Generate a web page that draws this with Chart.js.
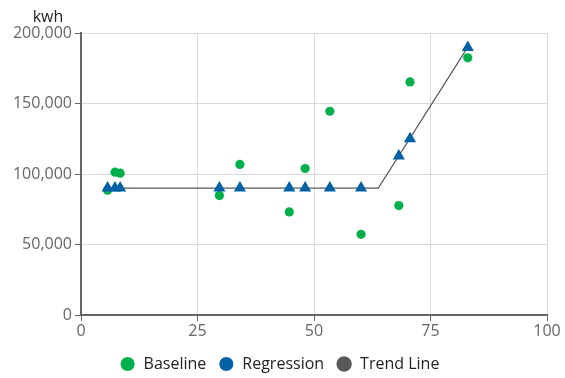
<!DOCTYPE html>
<html>
<head>
<meta charset="utf-8">
<script src="https://cdn.jsdelivr.net/npm/chart.js@4"></script>
<style>
html,body{margin:0;padding:0;background:#fff;}
#wrap{width:565px;height:378px;position:relative;}
</style>
</head>
<body>
<div id="wrap"><canvas id="c" width="565" height="378"></canvas></div>
<script>
const xValues = [5.7, 7.3, 8.4, 29.7, 34.1, 44.7, 48.1, 53.4, 60.1, 68.2, 70.6, 83.0];
const baselineKwh = [88500, 101300, 100600, 84700, 106800, 73100, 103900, 144500, 57200, 77600, 165300, 182400];
const regressionKwh = [90000, 90000, 90000, 90000, 90000, 90000, 90000, 90000, 90000, 112700, 125000, 189800];
const trendX = [5.7, 63.8, 83.0];
const trendY = [90000, 90000, 190000];
const xTicks = [0, 25, 50, 75, 100];
const yTicks = [0, 50000, 100000, 150000, 200000];
const yTitle = 'kwh';

const toPts = (xs, ys) => xs.map((x, i) => ({x: x, y: ys[i]}));

const FONT = "'Open Sans', 'Noto Sans', sans-serif";

const unitLabel = {
  id: 'unitLabel',
  afterDraw(chart) {
    const ctx = chart.ctx;
    ctx.save();
    ctx.font = "16px " + FONT;
    ctx.fillStyle = '#222';
    ctx.textAlign = 'center';
    ctx.textBaseline = 'middle';
    ctx.fillText(yTitle, 48, 17);
    ctx.restore();
  }
};

new Chart(document.getElementById('c'), {
  type: 'scatter',
  data: {
    datasets: [
      {
        label: 'Baseline',
        data: toPts(xValues, baselineKwh),
        backgroundColor: '#00b04a',
        borderColor: '#00b04a',
        borderWidth: 0,
        pointRadius: 4.6,
        pointHoverRadius: 4.6,
        pointStyle: 'circle',
        order: 2
      },
      {
        label: 'Regression',
        data: toPts(xValues, regressionKwh),
        backgroundColor: '#0062a5',
        borderColor: '#0062a5',
        borderWidth: 0,
        pointRadius: 7,
        pointHoverRadius: 7,
        pointStyle: 'triangle',
        order: 0
      },
      {
        label: 'Trend Line',
        data: toPts(trendX, trendY),
        showLine: true,
        borderColor: '#595959',
        backgroundColor: '#595959',
        borderWidth: 1.2,
        pointRadius: 0,
        pointHoverRadius: 0,
        order: 1
      }
    ]
  },
  options: {
    responsive: false,
    animation: false,
    layout: { padding: { top: 33, right: 6, left: 0, bottom: -4 } },
    scales: {
      x: {
        type: 'linear',
        min: 0, max: 100,
        afterBuildTicks: (s) => { s.ticks = xTicks.map(v => ({value: v})); },
        afterFit: (s) => { s.height = 29; s.paddingLeft = 0; s.paddingRight = 18; },
        grid: { color: '#d9d9d9', tickColor: '#666', tickLength: 6, lineWidth: 1 },
        border: { color: '#666', width: 2 },
        ticks: { color: '#666', font: { family: FONT, size: 16 }, padding: 1, maxRotation: 0 }
      },
      y: {
        min: 0, max: 200000,
        afterBuildTicks: (s) => { s.ticks = yTicks.map(v => ({value: v})); },
        afterFit: (s) => { s.width = 81; s.paddingTop = 0; s.paddingBottom = 0; },
        grid: { color: '#d9d9d9', tickColor: '#666', tickLength: 6, lineWidth: 1 },
        border: { color: '#666', width: 2 },
        ticks: { color: '#666', font: { family: FONT, size: 16 }, padding: 3 }
      }
    },
    plugins: {
      legend: {
        position: 'bottom',
        labels: {
          usePointStyle: true,
          pointStyle: 'circle',
          boxHeight: 10,
          padding: 12,
          color: '#222',
          font: { family: FONT, size: 16 },
          sort: (a, b) => a.datasetIndex - b.datasetIndex
        }
      },
      tooltip: { enabled: false }
    }
  },
  plugins: [unitLabel]
});
</script>
</body>
</html>
